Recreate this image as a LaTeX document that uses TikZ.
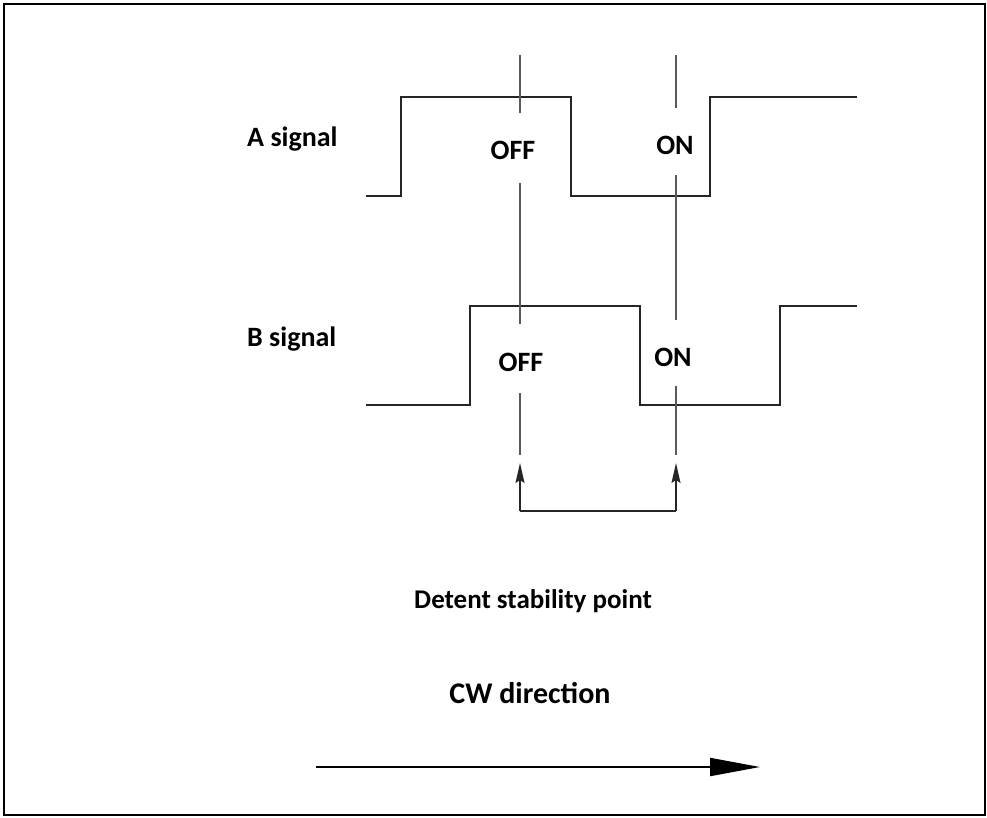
\documentclass[tikz,border=0pt]{standalone}
\usepackage{fontspec}
\setmainfont{Carlito}
\usetikzlibrary{arrows.meta}
\begin{document}
\begin{tikzpicture}[x=1pt,y=-1pt,
  sig/.style={draw=black!85, line width=1.3pt, line join=miter},
  guide/.style={draw=black!65, line width=1.4pt},
  lbl/.style={font=\bfseries\fontsize{28}{33}\selectfont, inner sep=0pt},
  bracket/.style={draw=black!85, line width=1.4pt},
]
\useasboundingbox (0,0) rectangle (987,817);
\fill[white] (0,0) rectangle (987,817);
\draw[line width=2pt] (4,4) rectangle (985,815);

% labels
\node[lbl,anchor=west] (asig) at (247,139) {A signal};
\node[lbl,anchor=west] (bsig) at (247,339) {B signal};
\node[lbl] (aoff) at (513,150) {OFF};
\node[lbl] (aon)  at (675,145) {ON};
\node[lbl] (boff) at (521,362) {OFF};
\node[lbl] (bon)  at (673,357) {ON};
\node[lbl,font=\bfseries\fontsize{27}{32}\selectfont] (detent) at (533,601) {Detent stability point};
\node[lbl,font=\bfseries\fontsize{30}{35}\selectfont] (cw) at (530,693) {CW direction};

% A signal
\draw[sig] (366,196) -- (401,196) -- (401,97) -- (571,97) -- (571,196) -- (710,196) -- (710,97) -- (857,97);
% B signal
\draw[sig] (366,405) -- (470,405) -- (470,306) -- (640,306) -- (640,405) -- (780,405) -- (780,306) -- (857,306);

% guide lines (OFF at x=520, ON at x=676)
\coordinate (o1) at (520,55);  \coordinate (o2) at (520,113);
\coordinate (o3) at (520,183); \coordinate (o4) at (520,324);
\coordinate (o5) at (520,393); \coordinate (o6) at (520,455);
\coordinate (n1) at (676,55);  \coordinate (n2) at (676,108);
\coordinate (n3) at (676,175); \coordinate (n4) at (676,320);
\coordinate (n5) at (676,386); \coordinate (n6) at (676,455);
\draw[guide] (o1) -- (o2) (o3) -- (o4) (o5) -- (o6);
\draw[guide] (n1) -- (n2) (n3) -- (n4) (n5) -- (n6);

% detent bracket with arrows
\coordinate (otip) at (520,463);
\coordinate (ntip) at (676,463);
\coordinate (obot) at (520,511);
\coordinate (nbot) at (676,511);
\draw[bracket] (obot) -- (nbot);
\draw[bracket,-{Stealth[length=20pt,width=9pt,inset=3pt]}] (obot) -- (otip);
\draw[bracket,-{Stealth[length=20pt,width=9pt,inset=3pt]}] (nbot) -- (ntip);

% CW direction arrow
\coordinate (cwa) at (316,767);
\coordinate (cwb) at (760,767);
\draw[line width=2pt,-{Triangle[length=50pt,width=18pt]}] (cwa) -- (cwb);
\end{tikzpicture}
\end{document}
